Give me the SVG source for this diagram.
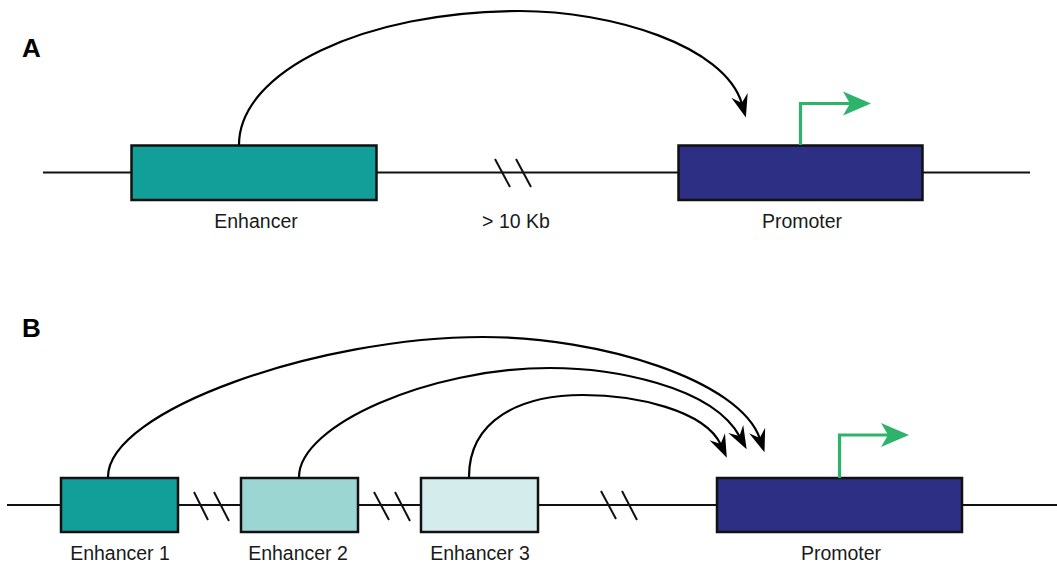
<svg xmlns="http://www.w3.org/2000/svg" width="1057" height="565" viewBox="0 0 1057 565">
<style>
.dna{stroke:#111;stroke-width:2;fill:none}
.brk{stroke:#111;stroke-width:2;fill:none}
.box{stroke:#111;stroke-width:2.5}
.arc{stroke:#000;stroke-width:2.2;fill:none;marker-end:url(#ah)}
.tss{stroke:#2eb36b;stroke-width:3.2;fill:none}
.lbl{font-family:"Liberation Sans",Arial,sans-serif;font-size:19.5px;fill:#1a1a1a;text-anchor:middle}
.pan{font-family:"Liberation Sans",Arial,sans-serif;font-size:26px;font-weight:bold;fill:#000}
</style>
<defs>
<marker id="ah" viewBox="-23 -9 23 18" refX="-14" refY="0" markerWidth="23" markerHeight="18" markerUnits="userSpaceOnUse" orient="auto">
<path d="M0,0 L-23,-8.5 L-15,0 L-23,8.5 Z" fill="#000"/>
</marker>
</defs>

<text class="pan" x="22" y="57">A</text>
<text class="pan" x="22" y="337">B</text>

<g id="backbones">
<line class="dna" x1="43" y1="172.5" x2="1030" y2="172.5"/>
<line class="dna" x1="7" y1="505" x2="1057" y2="505"/>
</g>

<g id="breaks">
<path class="brk" d="M495,159 L510,187 M516,159 L531,187"/>
<path class="brk" d="M194,492 L208,520 M214,492 L229,521"/>
<path class="brk" d="M374,492 L389,520 M395,492 L410,521"/>
<path class="brk" d="M601,491 L616,519 M622,491 L637,520"/>
</g>

<g id="enhancerA">
<rect class="box" x="131.5" y="145.5" width="245" height="54.5" fill="#139f99"/>
<text class="lbl" x="256" y="228">Enhancer</text>
</g>
<g id="promoterA">
<rect class="box" x="678.5" y="145.5" width="244" height="54.5" fill="#2d2f84"/>
<text class="lbl" x="802" y="228">Promoter</text>
</g>
<g id="gapA">
<text class="lbl" x="516" y="228">&gt; 10 Kb</text>
</g>

<g id="enhancer1">
<rect class="box" x="61" y="478" width="117" height="54" fill="#139f99"/>
<text class="lbl" x="120" y="560">Enhancer 1</text>
</g>
<g id="enhancer2">
<rect class="box" x="241" y="478" width="117" height="54" fill="#9bd6d3"/>
<text class="lbl" x="298" y="560">Enhancer 2</text>
</g>
<g id="enhancer3">
<rect class="box" x="421" y="478" width="117" height="54" fill="#d4ecec"/>
<text class="lbl" x="480" y="560">Enhancer 3</text>
</g>
<g id="promoterB">
<rect class="box" x="717" y="478" width="245" height="54" fill="#2d2f84"/>
<text class="lbl" x="841" y="560">Promoter</text>
</g>

<g id="connectors">
<path class="arc" d="M239,145 C239,71 365,11 520,11 C610,11 725,45 742,104"/>
<path class="arc" d="M108,477 C108,410 320,337 483,337 C600,337 740,380 760,439"/>
<path class="arc" d="M299,477 C299,425 430,368 550,368 C610,368 712,385 740,437"/>
<path class="arc" d="M469,477 C469,420 520,395 583,395 C635,395 705,410 721,445"/>
<path class="tss" d="M800.5,145 V103.5 H850"/>
<path d="M871,103.5 L843,91.5 L850,103.5 L843,115.5 Z" fill="#2eb36b"/>
<path class="tss" d="M839.5,478 V435 H888"/>
<path d="M909,435 L881,423 L888,435 L881,447 Z" fill="#2eb36b"/>
</g>
</svg>
